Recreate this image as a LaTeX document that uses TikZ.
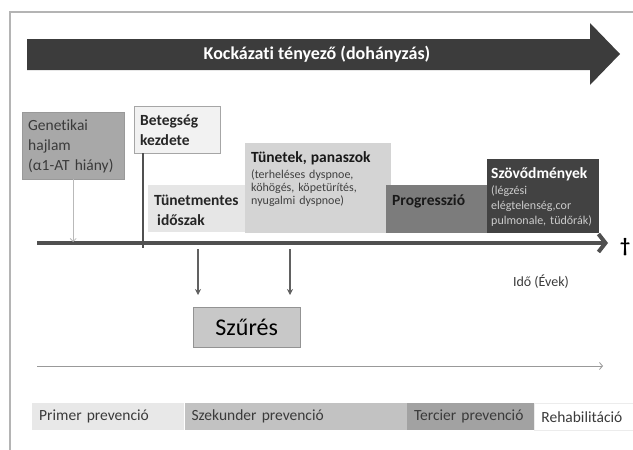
\documentclass[tikz,border=0pt]{standalone}
\usepackage{fontspec}
\setmainfont{Carlito}[Ligatures=NoCommon]
\usetikzlibrary{positioning,arrows.meta}
\definecolor{framegray}{HTML}{B4B4B4}
\definecolor{riskgray}{HTML}{3C3C3C}
\definecolor{linegray}{HTML}{505050}
\definecolor{textgray}{HTML}{3A3A3A}
\definecolor{gengray}{HTML}{A8A8A8}
\definecolor{begfill}{HTML}{F2F2F2}
\definecolor{tmfill}{HTML}{E6E6E6}
\definecolor{tunfill}{HTML}{D4D4D4}
\definecolor{progfill}{HTML}{7C7C7C}
\definecolor{szovfill}{HTML}{424242}
\definecolor{szufill}{HTML}{C8C8C8}
\definecolor{primfill}{HTML}{E8E8E8}
\definecolor{szekfill}{HTML}{C2C2C2}
\definecolor{tercfill}{HTML}{A2A2A2}
\begin{document}
\begin{tikzpicture}[x=1pt, y=-1pt,
  phasebox/.style={anchor=north west, inner xsep=6pt, inner ysep=4pt, align=left},
  boldtext/.style={font=\fontsize{15.5}{20}\selectfont\bfseries},
  prevbar/.style={anchor=north west, minimum height=27pt, inner xsep=7pt, inner ysep=0pt,
    align=left, text=textgray, font=\fontsize{15.5}{18}\selectfont},
  screenarrow/.style={draw=linegray!90, line width=1.2pt, shorten >=12pt,
    -{Stealth[length=6pt,width=6pt]}}]
  \useasboundingbox (0,0) rectangle (633,450);
  \draw[framegray, line width=1.5pt] (10,450) -- (10,12) -- (633,12);
  \fill[riskgray] (27,39) -- (590,39) -- (590,23) -- (620,54) -- (590,85) -- (590,70) -- (27,70) -- cycle;
  \node[text=white, font=\fontsize{18}{20}\selectfont\bfseries] (risk) at (317,54) {Kockázati tényező (dohányzás)};
  \coordinate (tl0) at (37,243);
  \coordinate (tl1) at (608,243);
  \coordinate (bk) at (143,248);
  \coordinate (s1) at (198,249);
  \coordinate (s2) at (290,249);
  \coordinate (p0) at (37,366);
  \coordinate (p1) at (603,366);
  \node[phasebox, fill=gengray, draw=gray!80, text=textgray, text width=90pt,
    text height=14pt, text depth=45pt, font=\fontsize{15.5}{20}\selectfont] (gen) at (22,112)
    {Genetikai\\hajlam\\(α1-AT hiány)};
  \node[phasebox, boldtext, fill=begfill, draw=gray!70, text=black!85, text width=74pt,
    text height=15pt, text depth=24pt] (beg) at (134,106) {Betegség\\kezdete};
  \node[phasebox, boldtext, fill=tmfill, text=black!85, text width=85pt,
    text height=16pt, text depth=23pt] (tmen) at (148,185) {Tünetmentes\\\hspace*{3pt}időszak};
  \node[phasebox, fill=tunfill, text=black!75, text width=134pt,
    text height=15pt, text depth=67pt, font=\fontsize{12}{13}\selectfont] (tun) at (245,143)
    {{\fontsize{15.5}{18}\selectfont\bfseries\color{black!90}Tünetek, panaszok}\\[3pt]
     (terheléses dyspnoe,\\köhögés, köpetürítés,\\nyugalmi dyspnoe)};
  \node[phasebox, boldtext, fill=progfill, text=black!90, text width=89pt,
    text height=16pt, text depth=24pt] (prog) at (386,185) {Progresszió};
  \node[phasebox, fill=szovfill, text=gray!40, inner xsep=4pt, text width=104pt,
    text height=15pt, text depth=51pt, font=\fontsize{12}{15}\selectfont] (szov) at (487,159)
    {{\fontsize{15.5}{18}\selectfont\bfseries\color{white}Szövődmények}\\[1pt]
     (légzési\\elégtelenség,cor\\\mbox{pulmonale, tüdőrák)}};
  \draw[linegray, line width=4pt, -{Straight Barb[length=7pt,width=18pt]}] (tl0) -- (tl1);
  \draw[gray!55, line width=0.8pt, shorten >=1pt, -{Straight Barb[length=3pt,width=6pt]}] (gen) -- (gen |- tl0);
  \draw[linegray, line width=1.5pt] (bk |- beg.south) -- (bk);
  \node[font=\fontsize{20}{20}\selectfont\bfseries] (death) at (625,247) {†};
  \node[text=textgray, font=\fontsize{14}{16}\selectfont] (ido) at (541,282) {Idő (Évek)};
  \node[phasebox, fill=szufill, draw=gray!85, align=center, text width=95pt,
    text height=24pt, text depth=8pt, font=\fontsize{24}{24}\selectfont] (szu) at (193,307) {Szűrés};
  \draw[screenarrow] (s1) -- (s1 |- szu.north);
  \draw[screenarrow] (s2) -- (s2 |- szu.north);
  \draw[gray!80, line width=0.8pt, -{Straight Barb[length=3pt,width=7pt]}] (p0) -- (p1);
  \node[prevbar, fill=primfill, text width=138pt] (prim) at (32,403) {Primer prevenció};
  \node[prevbar, fill=szekfill, text width=208pt, right=0pt of prim] (szek) {Szekunder prevenció};
  \node[prevbar, fill=tercfill, text width=113pt, right=0pt of szek] (terc) {Tercier prevenció};
  \node[prevbar, fill=white, draw=gray!15, text width=86pt, right=0pt of terc] (rehab) {Rehabilitáció};
\end{tikzpicture}
\end{document}
